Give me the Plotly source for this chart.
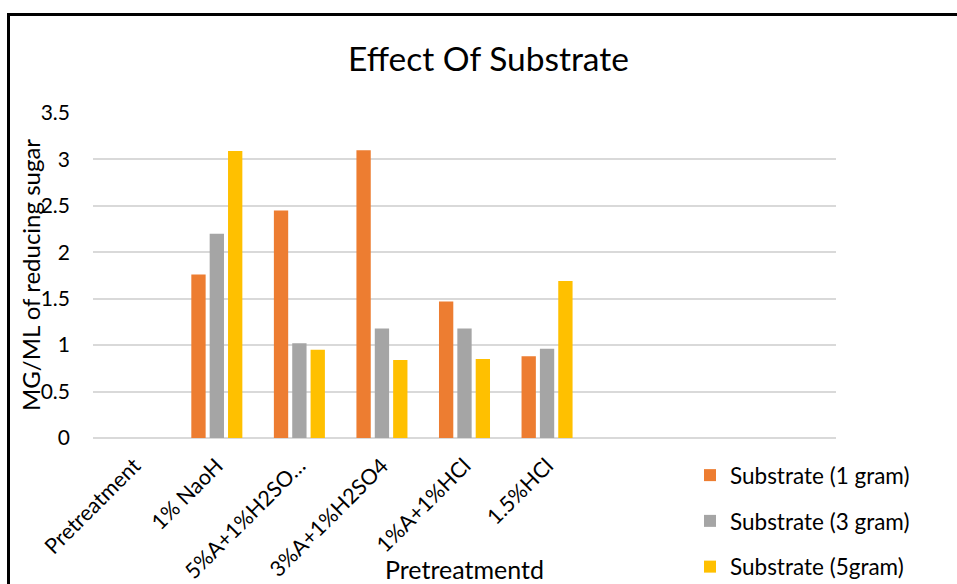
import plotly.graph_objects as go

# Pretreatment categories (the last three slots on the axis are left empty)
categories = ["Pretreatment", "1% NaoH", "5%A+1%H2SO…", "3%A+1%H2SO4", "1%A+1%HCl", "1.5%HCl"]
n_slots = 9

series_names = ["Substrate (1 gram)", "Substrate (3 gram)", "Substrate (5gram)"]
sub_1g = [None, 1.76, 2.45, 3.10, 1.47, 0.88]
sub_3g = [None, 2.20, 1.02, 1.18, 1.18, 0.96]
sub_5g = [None, 3.09, 0.95, 0.84, 0.85, 1.69]
colors = ["#ED7D31", "#A5A5A5", "#FFC000"]

y_ticks = [0, 0.5, 1, 1.5, 2, 2.5, 3, 3.5]
y_ticktext = ["0", "0.5", "1", "1.5", "2", "2.5", "3", "3.5"]

FONT = "Lato"
W, H = 957, 584
ML, MR, MT, MB = 93, 121, 113, 146
PW, PH = W - ML - MR, H - MT - MB


def px_to_paper_x(px):
    return (px - ML) / PW


def px_to_paper_y(py):
    return (H - MB - py) / PH


x_pos = list(range(len(categories)))

fig = go.Figure()
for i, (name, vals) in enumerate(zip(series_names, [sub_1g, sub_3g, sub_5g])):
    fig.add_trace(go.Bar(
        x=x_pos, y=vals, name=name,
        marker=dict(color=colors[i], line=dict(width=0)),
        legendgroup=f"g{i}",
    ))

fig.update_layout(
    width=W, height=H,
    margin=dict(l=ML, r=MR, t=MT, b=MB, autoexpand=False),
    paper_bgcolor="white", plot_bgcolor="white",
    font=dict(family=FONT, color="#000000"),
    barmode="group", bargap=0.333, bargroupgap=0.22,
    title=dict(text="Effect Of Substrate", x=488.5 / W, xref="container", xanchor="center",
               y=1 - 59 / H, yref="container", yanchor="middle",
               font=dict(family=FONT, size=33.5, color="#000000")),
    xaxis=dict(
        range=[-0.5, n_slots - 0.5], tickmode="array", tickvals=x_pos, ticktext=categories,
        tickangle=-45, tickfont=dict(size=21.5, family=FONT, color="#000000"),
        showgrid=False, showline=False, zeroline=False, ticks="", automargin=False,
        ticklabelstandoff=10, fixedrange=True,
    ),
    yaxis=dict(
        range=[0, 3.5], tickmode="array", tickvals=y_ticks, ticktext=y_ticktext,
        tickfont=dict(size=21, family=FONT, color="#000000"),
        showgrid=True, gridcolor="#D9D9D9", gridwidth=1.5,
        zeroline=True, zerolinecolor="#D9D9D9", zerolinewidth=1.5,
        showline=False, ticks="", ticklabelstandoff=22, automargin=False,
    ),
    legend=dict(
        xref="container", yref="container",
        x=690 / W, y=1 - 454 / H, xanchor="left", yanchor="top",
        font=dict(size=22.5, family=FONT, color="#000000"),
        tracegroupgap=13.5, bgcolor="rgba(0,0,0,0)",
    ),
    showlegend=True,
)

# Axis titles
fig.add_annotation(
    text="MG/ML of reducing sugar", xref="paper", yref="paper",
    x=px_to_paper_x(30), y=px_to_paper_y(275), textangle=-90,
    showarrow=False, xanchor="center", yanchor="middle",
    font=dict(size=24, family=FONT, color="#000000"),
)
fig.add_annotation(
    text="Pretreatmentd", xref="paper", yref="paper",
    x=px_to_paper_x(464), y=px_to_paper_y(569),
    showarrow=False, xanchor="center", yanchor="middle",
    font=dict(size=25, family=FONT, color="#000000"),
)

# Chart frame: left and top edges (the rest runs off the page)
frame = dict(color="#000000", width=3)
fig.add_shape(type="line", xref="paper", yref="paper",
              x0=px_to_paper_x(8.5), x1=px_to_paper_x(8.5),
              y0=px_to_paper_y(H + 5), y1=px_to_paper_y(13), line=frame, layer="above")
fig.add_shape(type="line", xref="paper", yref="paper",
              x0=px_to_paper_x(7), x1=px_to_paper_x(W + 5),
              y0=px_to_paper_y(14.5), y1=px_to_paper_y(14.5), line=frame, layer="above")

fig.write_html("out.html")
